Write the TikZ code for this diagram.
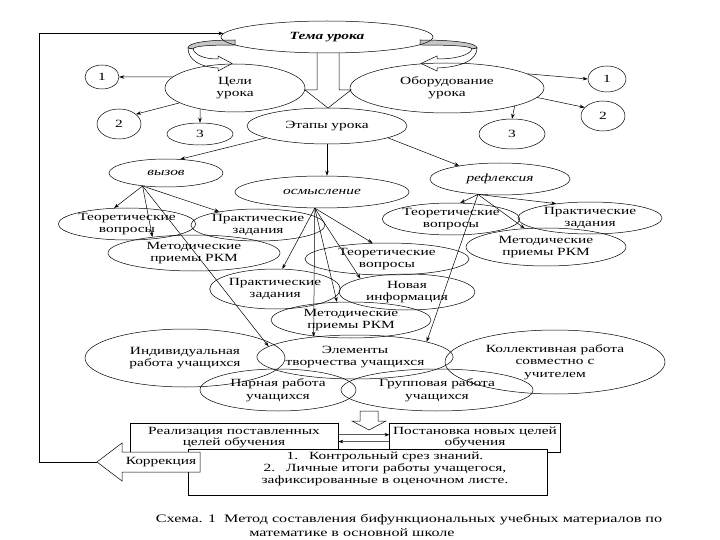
\documentclass[tikz,border=0pt]{standalone}
\usepackage{fontspec}
\setmainfont{Liberation Serif}[FakeStretch=1.4]
\usetikzlibrary{shapes.geometric,arrows.meta}

\begin{document}
\begin{tikzpicture}[x=1pt,y=-1pt,line width=0.5pt,
    font=\fontsize{11}{12.5}\selectfont,
    ovalnode/.style={ellipse,draw,inner sep=0pt,align=center},
    boxnode/.style={rectangle,draw,align=center,anchor=north,inner ysep=4pt,
      font=\fontsize{11}{11}\selectfont},
    >={Stealth[length=5pt,width=3.5pt]}]
  \useasboundingbox (0,0) rectangle (720,540);

  % curved ribbons round the theme
  \draw[fill=gray!45] (235,40) .. controls (205,40) and (188,43) .. (188,48)
    -- (193,49) .. controls (194,46) and (208,45) .. (235,45) -- cycle;
  \draw[fill=white] (188,48) .. controls (188,60) and (200,67) .. (218,68)
    -- (218,71) -- (232,63.5) -- (218,56) -- (218,59)
    .. controls (204,59) and (195,55) .. (193,49) -- cycle;
  \draw[fill=gray!45] (420,40) .. controls (455,40) and (477,43) .. (477,48)
    -- (472,49) .. controls (471,46) and (452,45) .. (420,45) -- cycle;
  \draw[fill=white] (477,48) .. controls (477,60) and (462,67) .. (437,68)
    -- (437,71) -- (421,63.5) -- (437,56) -- (437,59)
    .. controls (456,59) and (470,55) .. (472,49) -- cycle;

  % hollow arrows
  \draw (317,53) -- (317,90) -- (305,90) -- (328,108) -- (351,90) -- (339,90) -- (339,53);
  \draw (360,411) -- (360,421) -- (352,421) -- (369,430) -- (386,421) -- (378,421) -- (378,411) -- cycle;

  \draw
    (327,37) node[ovalnode,minimum width=212,minimum height=32] (tema){\textbf{\textit{Тема урока}}}
    (235,88) node[ovalnode,minimum width=140,minimum height=48] (celi){Цели\\урока}
    (447,88) node[ovalnode,minimum width=194,minimum height=50] (obor){Оборудование\\урока}
    (102,77) node[ovalnode,minimum width=34,minimum height=24] (l1){1}
    (119,124) node[ovalnode,minimum width=44,minimum height=30] (l2){2}
    (200,134) node[ovalnode,minimum width=66,minimum height=22] (l3){3}
    (607,79) node[ovalnode,minimum width=38,minimum height=26] (r1){1}
    (603,116) node[ovalnode,minimum width=44,minimum height=30] (r2){2}
    (512,134) node[ovalnode,minimum width=66,minimum height=30] (r3){3}
    (327,126) node[ovalnode,minimum width=160,minimum height=36] (etapy){Этапы урока}
    (166,173) node[ovalnode,minimum width=114,minimum height=28] (vyzov){\textit{вызов}}
    (322,192) node[ovalnode,minimum width=174,minimum height=32] (osm){\textit{осмысление}}
    (500,179) node[ovalnode,minimum width=140,minimum height=32] (refl){\textit{рефлексия}}
    (127,224) node[ovalnode,minimum width=132,minimum height=32] (vt){Теоретические\\вопросы}
    (258,225) node[ovalnode,minimum width=134,minimum height=32] (vp){Практические\\задания}
    (194,253) node[ovalnode,minimum width=172,minimum height=36] (vm){Методические\\приемы РКМ}
    (387,259) node[ovalnode,minimum width=164,minimum height=32] (ot){Теоретические\\вопросы}
    (275,289) node[ovalnode,minimum width=128,minimum height=40] (op){Практические\\задания}
    (407,292) node[ovalnode,minimum width=136,minimum height=36] (on){Новая\\информация}
    (351,320) node[ovalnode,minimum width=160,minimum height=36] (om){Методические\\приемы РКМ}
    (451,219) node[ovalnode,minimum width=132,minimum height=32] (rt){Теоретические\\вопросы}
    (590,218) node[ovalnode,minimum width=144,minimum height=32] (rp){Практические\\задания}
    (546,247) node[ovalnode,minimum width=160,minimum height=38] (rm){Методические\\приемы РКМ}
    (185,358) node[ovalnode,minimum width=200,minimum height=58] (ind){Индивидуальная\\работа учащихся}
    (355,357) node[ovalnode,minimum width=170,minimum height=44] (el){Элементы\\творчества учащихся}
    (555,362) node[ovalnode,minimum width=220,minimum height=64] (kol){Коллективная работа\\совместно с\\учителем}
    (278,390) node[ovalnode,minimum width=156,minimum height=42] (par){Парная работа\\учащихся}
    (437,390) node[ovalnode,minimum width=192,minimum height=42] (grp){Групповая работа\\учащихся};

  \node[boxnode,minimum width=208] (real) at (234,423) {Реализация поставленных\\целей обучения};
  \node[boxnode,minimum width=154] (post) at (475,423) {Постановка новых целей\\обучения};

  \draw[fill=white] (188,449) rectangle (547,495);
  \node[align=center,font=\fontsize{11}{12}\selectfont] (itog) at (385,469)
    {1.\quad Контрольный срез знаний.\\2.\quad Личные итоги работы учащегося,\\зафиксированные в оценочном листе.};

  \draw[fill=white] (97,462) -- (122,443) -- (122,452) -- (200,452) -- (200,472)
    -- (122,472) -- (122,481) -- cycle;
  \node (korr) at (161,462) {Коррекция};
  \coordinate (kortip) at (97,462);
  \coordinate (corner) at (39,462);

  \node[align=center,font=\fontsize{11.5}{14}\selectfont] (cap) at (352,525)
    {\hspace*{114pt}Схема. 1~~Метод составления бифункциональных учебных материалов по\\математике в основной школе};

  \begin{scope}[->]
    \draw (celi.170) to (l1.east);
    \draw (celi.195) to (l2.30);
    \draw (celi.211) to (l3.north);
    \draw (obor.10) to (r1.west);
    \draw (obor.-6) to (r2.155);
    \draw (obor.-15) to (r3.north);
    \draw (etapy.191) to (vyzov.44);
    \draw (etapy) to (etapy |- osm.north);
    \draw (etapy.349) to (refl.162);
    \draw (vyzov.209) to (vt.129);
    \draw (vyzov.209) to (vp.161);
    \draw (vyzov.209) to (vm.159);
    \draw (vyzov.209) to (el.173);
    \draw (osm.246) to (ot.132);
    \draw (osm.246) to (op.70);
    \draw (osm.246) to (on.164);
    \draw (osm.246) to (om.128);
    \draw (osm.246) to (el.154);
    \draw (refl.215) to (rt.60);
    \draw (refl.215) to (rp.157);
    \draw (refl.215) to (rm.139);
    \draw (refl.215) to (el.12);
    \draw ([yshift=3pt]real.east) to ([yshift=3pt]post.west);
    \draw ([yshift=-4pt]post.west) to ([yshift=-4pt]real.east);
    \draw (kortip) -- (corner) |- (tema.178);
  \end{scope}
\end{tikzpicture}
\end{document}
